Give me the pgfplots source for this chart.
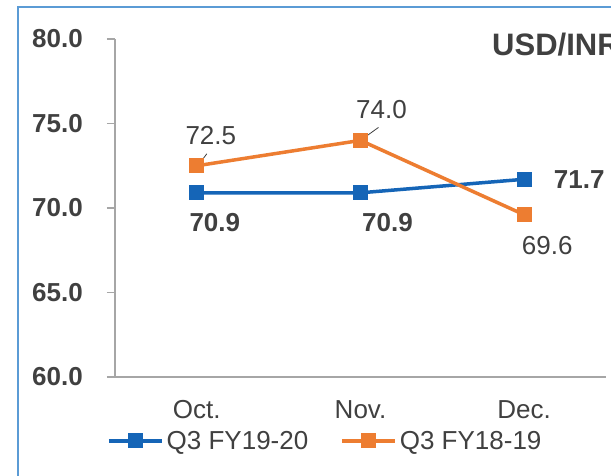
\documentclass[border=0pt]{standalone}
\usepackage{fontspec}
\setmainfont{Liberation Sans}
\usepackage{pgfplots}
\pgfplotsset{compat=1.18}
\definecolor{sblue}{HTML}{1565B7}
\definecolor{sorange}{HTML}{ED7D31}
\definecolor{txt}{HTML}{404040}
\definecolor{axg}{HTML}{A6A6A6}
\definecolor{framec}{HTML}{5B9BD5}
\newcommand\fs{\fontsize{26}{30}\selectfont}
\begin{document}
\begin{tikzpicture}
\path[use as bounding box, clip] (0pt,0pt) rectangle (611pt,475pt);
\fill[white] (0pt,0pt) rectangle (611pt,475pt);
\draw[framec, line width=1.5pt] (18pt,-20pt) -- (18pt,468pt) -- (640pt,468pt);
\begin{axis}[
  at={(115pt,98pt)}, anchor=south west,
  scale only axis, width=491pt, height=338pt,
  xmin=-0.5, xmax=2.5, ymin=60, ymax=80,
  clip=false,
  axis lines*=left,
  axis line style={axg, line width=1.5pt},
  xtick={0,1,2}, xticklabels={Oct.,Nov.,Dec.},
  x tick style={draw=none},
  ytick={60,65,70,75,80}, yticklabels={60.0,65.0,70.0,75.0,80.0},
  y tick style={axg, line width=1.2pt},
  tick align=outside, major tick length=8pt,
  yticklabel style={font=\fs\bfseries, text=txt, anchor=east, inner sep=0pt, xshift=-24pt},
  xticklabel style={font=\fs, text=txt, anchor=north, inner sep=0pt, yshift=-15pt},
  legend columns=2,
  legend style={at={(axis description cs:-0.0163,-0.189)}, anchor=west, draw=none, fill=none,
    font=\fs, text=txt, inner sep=0pt, nodes={inner sep=3pt},
    /tikz/every even column/.append style={column sep=29pt}},
  legend cell align=left,
  legend image code/.code={\draw[mark repeat=2,mark phase=2,#1] plot coordinates {(0pt,0pt)(26.5pt,0pt)(53pt,0pt)};},
]
\addplot[sblue, line width=3.5pt, mark=square*, mark size=7pt, mark options={solid, fill=sblue, draw=sblue, line width=0pt}]
  coordinates {(0,70.9) (1,70.9) (2,71.7)};
\addlegendentry{Q3 FY19-20}
\addplot[sorange, line width=3.5pt, mark=square*, mark size=7pt, mark options={solid, fill=sorange, draw=sorange, line width=0pt}]
  coordinates {(0,72.5) (1,74.0) (2,69.6)};
\addlegendentry{Q3 FY18-19}
% data labels
\node[font=\fs\bfseries, text=txt] at (axis cs:0,70.9) [xshift=18pt, yshift=-30pt] {70.9};
\node[font=\fs\bfseries, text=txt] at (axis cs:1,70.9) [xshift=27pt, yshift=-30pt] {70.9};
\node[font=\fs\bfseries, text=txt] at (axis cs:2,71.7) [xshift=55pt, yshift=0pt] {71.7};
\node[font=\fs, text=txt] at (axis cs:0,72.5) [xshift=14pt, yshift=30pt] {72.5};
\node[font=\fs, text=txt] at (axis cs:1,74.0) [xshift=21pt, yshift=31pt] {74.0};
\node[font=\fs, text=txt] at (axis cs:2,69.6) [xshift=23pt, yshift=-31pt] {69.6};
\draw[txt, line width=0.8pt] (axis cs:0,72.5) ++(1pt,0pt) -- ++(9pt,12pt);
\draw[txt, line width=0.8pt] (axis cs:1,74.0) -- ++(18pt,13pt);
\end{axis}
\node[anchor=base west, font=\fontsize{31}{36}\selectfont\bfseries, text=txt, inner sep=0pt] at (492pt,419pt) {USD/INR};
\end{tikzpicture}
\end{document}
